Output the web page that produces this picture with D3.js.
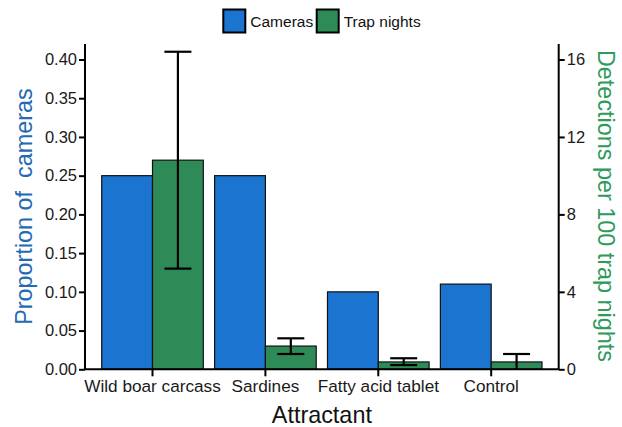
<!DOCTYPE html>
<html><head><meta charset="utf-8">
<script src="https://cdn.jsdelivr.net/npm/d3@7"></script>
<style>body{margin:0;background:#fff}svg{font-family:"Liberation Sans",Arial,sans-serif}</style>
</head><body>
<svg id="c" width="622" height="427"></svg>
<script>
const categories = ["Wild boar carcass","Sardines","Fatty acid tablet","Control"];
const cameras = [0.25, 0.25, 0.10, 0.11];
const trapNights = [10.8, 1.2, 0.38, 0.38];
const trapLow = [5.2, 0.79, 0.22, 0.0];
const trapHigh = [16.4, 1.6, 0.57, 0.79];
const leftTicks = [0,0.05,0.10,0.15,0.20,0.25,0.30,0.35,0.40];
const rightTicks = [0,4,8,12,16];
const seriesNames = ["Cameras","Trap nights"];
const colors = ["#1b74d0","#2e8b57"];

const svg = d3.select("#c");
const L = 85, R = 558.7, T = 44, B = 369.3;
const x = d3.scaleBand().domain(categories).range([L,R]).paddingInner(0.1).paddingOuter(0.148);
const xs = d3.scaleBand().domain(seriesNames).range([0,x.bandwidth()]);
const yL = d3.scaleLinear().domain([0,0.42]).range([B,T]);
const yR = d3.scaleLinear().domain([0,16.8]).range([B,T]);

// bars
svg.append("g").selectAll("rect").data(categories).join("rect")
  .attr("x",d=>x(d)+xs("Cameras")).attr("width",xs.bandwidth())
  .attr("y",(d,i)=>yL(cameras[i])).attr("height",(d,i)=>B-yL(cameras[i]))
  .attr("fill",colors[0]).attr("stroke","#111").attr("stroke-width",1.2);
svg.append("g").selectAll("rect").data(categories).join("rect")
  .attr("x",d=>x(d)+xs("Trap nights")).attr("width",xs.bandwidth())
  .attr("y",(d,i)=>yR(trapNights[i])).attr("height",(d,i)=>B-yR(trapNights[i]))
  .attr("fill",colors[1]).attr("stroke","#111").attr("stroke-width",1.2);

// error bars
const eg = svg.append("g").attr("stroke","#000").attr("stroke-width",2.2);
categories.forEach((c,i)=>{
  const cx = x(c)+xs("Trap nights")+xs.bandwidth()/2;
  eg.append("line").attr("x1",cx).attr("x2",cx).attr("y1",yR(trapLow[i])).attr("y2",yR(trapHigh[i]));
  [trapLow[i],trapHigh[i]].forEach(v=>{
    if(v>0) eg.append("line").attr("x1",cx-13.5).attr("x2",cx+13.5).attr("y1",yR(v)).attr("y2",yR(v));
  });
});

// axes
const axL = svg.append("g").attr("transform",`translate(${L},0)`)
  .call(d3.axisLeft(yL).tickValues(leftTicks).tickFormat(d3.format(".2f")).tickSize(6).tickSizeOuter(0));
const axR = svg.append("g").attr("transform",`translate(${R},0)`)
  .call(d3.axisRight(yR).tickValues(rightTicks).tickFormat(d3.format("d")).tickSize(6).tickSizeOuter(0));
const axB = svg.append("g").attr("transform",`translate(0,${B})`)
  .call(d3.axisBottom(x).tickSize(7).tickSizeOuter(0));
[axL,axR,axB].forEach(a=>{
  a.select(".domain").attr("stroke","#000").attr("stroke-width",2);
  a.selectAll(".tick line").attr("stroke","#000").attr("stroke-width",2);
  a.selectAll(".tick text").attr("font-size",16.5).attr("fill","#1a1a1a").attr("font-family","Liberation Sans, Arial, sans-serif");
});
axB.selectAll(".tick text").attr("font-size",17.2);
axL.select(".domain").attr("d",`M0,${T}V${B}`);
axR.select(".domain").attr("d",`M0,${T}V${B}`);
axB.select(".domain").attr("d",`M${L},0H${R}`);
axL.selectAll(".tick text").attr("x",-8);
axR.selectAll(".tick text").attr("x",8);
axB.selectAll(".tick text").attr("y",10);

// axis titles
svg.append("text").attr("x",(L+R)/2).attr("y",423).attr("text-anchor","middle")
  .attr("font-size",23.4).attr("fill","#111").text("Attractant");
svg.append("text").attr("transform","translate(32,206.5) rotate(-90)").attr("text-anchor","middle")
  .attr("font-size",23.4).attr("fill","#2469b3").attr("xml:space","preserve").style("white-space","pre").text("Proportion of  cameras");
svg.append("text").attr("transform","translate(598,206) rotate(90)").attr("text-anchor","middle")
  .attr("font-size",23.4).attr("fill","#2e9a5c").text("Detections per 100 trap nights");

// legend
const lg = svg.append("g");
const legX = [223.3, 316.7];
seriesNames.forEach((s,i)=>{
  lg.append("rect").attr("x",legX[i]).attr("y",9.5).attr("width",22).attr("height",23)
    .attr("fill",colors[i]).attr("stroke","#000").attr("stroke-width",2);
  lg.append("text").attr("x",legX[i]+27).attr("y",27).attr("font-size",15.5).attr("fill","#111").text(s);
});
</script>
</body></html>
